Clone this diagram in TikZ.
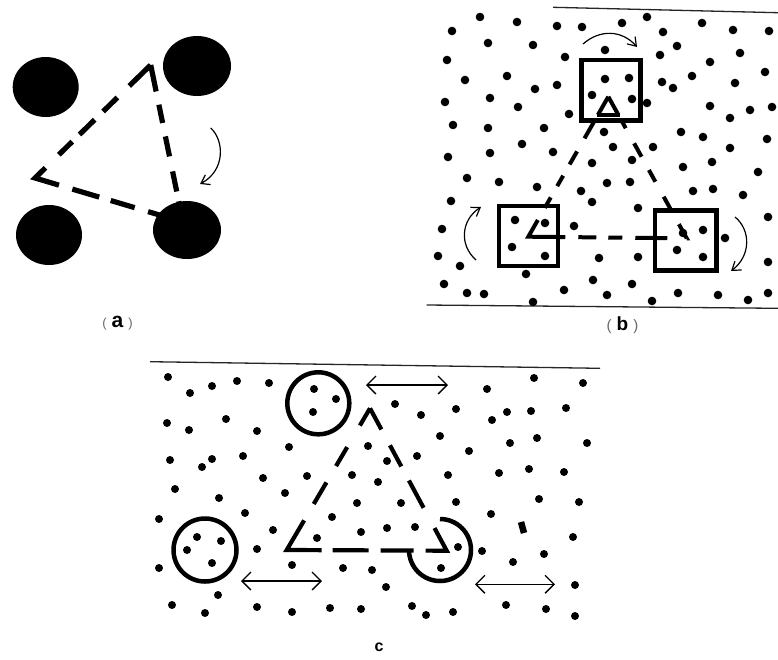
\documentclass[tikz,border=0pt]{standalone}
\usepackage{fontspec}
\setsansfont{Liberation Sans}
\usetikzlibrary{arrows.meta}
\begin{document}
\begin{tikzpicture}[x=1pt,y=-1pt,
  blob/.style={fill=black},
  frameline/.style={line width=1.3pt,black!85},
  thinarrow/.style={line width=1.2pt,-{Straight Barb[length=8pt,width=11pt]}},
  twoway/.style={line width=1.3pt,{Straight Barb[length=9pt,width=18pt]}-{Straight Barb[length=9pt,width=18pt]}},
  boxb/.style={line width=4.8pt},
  ringc/.style={line width=4.5pt},
  lbl/.style={font=\sffamily, inner sep=0pt, anchor=base}]
\useasboundingbox (0,0) rectangle (778,659);

% ---------------- panel (a) ----------------
\fill (45.7,87) ellipse[x radius=33,y radius=30];
\fill (197,66) ellipse[x radius=34,y radius=30];
\fill (49,235) ellipse[x radius=33,y radius=30];
\fill (187,230) ellipse[x radius=34,y radius=29];
\coordinate (aT) at (150.7,65);
\coordinate (aL) at (35,178);
\coordinate (aB) at (183,222);
\draw[line width=5.2pt,miter limit=3,
  dash pattern=on 30pt off 16.5pt on 20pt off 11.8pt on 21.2pt off 10.1pt on 18.8pt off 18.7pt on 39.6pt off 14pt on 28pt off 12pt on 25pt off 14pt on 57.6pt off 10pt on 20.5pt off 15.3pt on 20.4pt off 13.7pt on 18.7pt off 13.5pt on 27pt off 5pt]
  (aT) -- (aL) -- (aB) -- cycle;
\coordinate (aa1) at (210.7,128);
\coordinate (aa2) at (200,184);
\draw[thinarrow] (aa1) .. controls (224,140) and (226,170) .. (aa2);
\node[lbl] (la) at (117.5,327) {{\fontsize{13}{13}\selectfont\color{black!60}(}\hspace{5pt}{\fontsize{21}{21}\selectfont\bfseries a}\hspace{5pt}{\fontsize{13}{13}\selectfont\color{black!60})}};

% ---------------- panel (b) ----------------
\draw[frameline] (553,7.3) -- (778,12.7);
\draw[frameline] (426.7,305) -- (778,308.3);
\foreach \x/\y in {480/17, 517/22, 557/26, 582/27, 622/23, 647/17, 702/23, 733/30, 769/31,
452/31, 488/43, 533/45, 605/50, 663/32, 677/46, 660/55, 740/53, 710/62,
447/60, 565/57, 765/72,
465/80, 507/76, 535/89, 557/85, 605/79, 629/78, 662/82, 673/88, 692/76, 735/83,
445/102, 490/98, 518/107, 592/95, 632/99, 647/103, 710/106, 750/110, 772/107, 730/118,
453/125, 488/128, 544/128, 569/114, 604/132, 681/132, 703/137, 767/139,
448/157, 490/153, 522/144, 553/152, 592/163, 613/147, 632/160, 653/147, 683/167, 712/162, 730/148, 758/172,
467/178, 499/182, 537/187, 581/191, 607/183, 630/182, 693/191, 713/189, 743/195,
451/201, 592/202, 638/208,
442/229, 574/226, 545/223, 515/220, 768/217, 725/238,
438/256, 460/266, 512/247, 545/256, 599/258, 638/257, 677/250, 703/230, 703/257, 768/262,
444/284, 467/293, 484/294, 526/274, 564/290, 593/280, 607/295, 632/284, 652/301, 678/293, 718/295, 748/300, 768/293, 533/302,
683/233}
  \fill[blob] (\x,\y) circle[radius=4.3];
\draw[boxb] (581.7,60) rectangle (640.7,120.7);
\draw[boxb] (499,206) rectangle (558,266);
\draw[boxb] (655,210.7) rectangle (716.7,270.7);
\coordinate (bA) at (608.3,96.7);
\coordinate (bL) at (528.3,236.7);
\coordinate (bR) at (686.7,238.3);
\draw[line width=4pt,miter limit=3,
  dash pattern=on 21pt off 8pt on 19pt off 15pt on 15pt off 13pt on 12pt off 13pt on 12pt off 14pt on 56.2pt off 13pt on 18pt off 12pt on 14pt off 13pt on 32pt off 19.4pt on 16.2pt off 16.1pt on 15.3pt off 17.1pt on 13.4pt off 15.2pt on 15.3pt off 17.3pt on 7.4pt off 7.6pt on 21pt off 5pt]
  (bA) -- (bL) -- (bR) -- cycle;
\coordinate (bx1) at (597,115);
\coordinate (bx2) at (620,115);
\draw[line width=4pt] (bx1) -- (bx2);
\coordinate (bt1) at (583,44);
\coordinate (bt2) at (637,47);
\draw[thinarrow] (bt1) .. controls (600,29) and (622,30) .. (bt2);
\coordinate (bl1) at (476,260);
\coordinate (bl2) at (481,207);
\draw[thinarrow] (bl1) .. controls (459,245) and (461,220) .. (bl2);
\coordinate (br1) at (735,217);
\coordinate (br2) at (731,271);
\draw[thinarrow] (br1) .. controls (751,230) and (751,256) .. (br2);
\node[lbl] (lb) at (622.5,330) {{\fontsize{15}{15}\selectfont\color{black!60}(}\hspace{5pt}{\fontsize{19}{19}\selectfont\bfseries b}\hspace{5pt}{\fontsize{15}{15}\selectfont\color{black!60})}};

% ---------------- panel (c) ----------------
\draw[frameline] (150,361.7) -- (600,368.3);
\foreach \x/\y in {168/377, 190/393, 212/386, 237/381, 269/383,
167/423, 189/430, 226/419, 257/431,
170/460, 202/467, 212/459, 243/456, 289/447, 263/478, 307/476, 285/493,
175/489, 219/498, 245/513, 159/519, 273/530, 257/549, 159/568, 218/595, 172/605, 205/613, 257/607, 292/612, 330/608, 361/609, 412/606, 426/615, 453/612, 386/587, 372/570, 343/568, 292/565, 317/538, 332/517, 361/532, 387/528, 415/527, 357/503, 378/482, 401/503, 352/475, 368/446, 387/461, 417/456, 395/404, 421/415, 440/436, 456/409, 469/451, 448/475, 456/502, 491/514, 487/389, 534/378, 583/383, 492/420, 507/412, 531/411, 566/408, 510/443, 537/438, 587/443, 499/473, 529/469, 564/472, 539/499, 579/502, 573/537, 544/554, 513/562, 482/551, 575/585, 506/605, 546/609, 575/616, 458/547, 441/568,
314/389, 336/399, 313/412, 197/537, 221/541, 187/550, 212/563}
  \fill[blob] (\x,\y) circle[radius=4];
\coordinate (cb1) at (521,522);
\coordinate (cb2) at (524,533);
\draw[line width=6.5pt] (cb1) -- (cb2);
\draw[ringc] (318.3,403.3) circle[radius=31];
\draw[ringc] (205,550) circle[radius=31.5];
\draw[ringc] (440,519) arc[start angle=270,end angle=540,radius=31];
\coordinate (cA) at (370,408.3);
\coordinate (cL) at (286.7,550);
\coordinate (cR) at (446.7,550.7);
\draw[line width=4.2pt,miter limit=3,
  dash pattern=on 20pt off 25pt on 22pt off 19pt on 25pt off 19pt on 69.4pt off 11pt on 36pt off 12pt on 33pt off 12pt on 46.7pt off 23pt on 31pt off 16pt on 24pt off 18pt on 24pt off 5pt]
  (cA) -- (cL) -- (cR) -- cycle;
\coordinate (c1a) at (366,385);
\coordinate (c1b) at (448,385);
\draw[twoway] (c1a) -- (c1b);
\coordinate (c2a) at (241,581);
\coordinate (c2b) at (322,581);
\draw[twoway] (c2a) -- (c2b);
\coordinate (c3a) at (475,584.3);
\coordinate (c3b) at (555,584.3);
\draw[twoway] (c3a) -- (c3b);
\node[lbl] (lc) at (379,651.7) {\fontsize{16}{16}\selectfont\bfseries c};
\end{tikzpicture}
\end{document}
